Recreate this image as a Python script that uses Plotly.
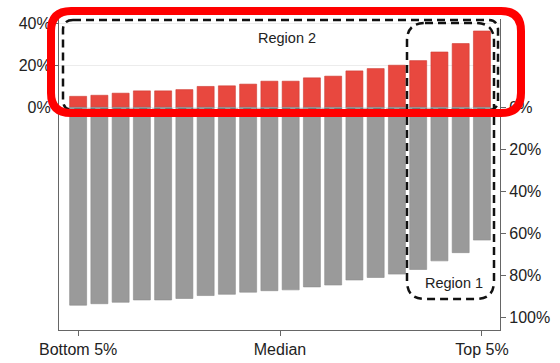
import plotly.graph_objects as go

# ---- data ----
positions = list(range(1, 21))
red_values = [5.2, 5.7, 6.7, 7.8, 7.8, 8.4, 9.9, 10.2, 11.0, 12.4,
              12.4, 14.0, 14.8, 17.3, 18.4, 20.0, 22.2, 26.3, 30.3, 36.3]
gray_values = [-94.2, -93.5, -92.8, -91.7, -91.7, -91.0, -89.6, -89.0, -88.0, -87.3,
               -86.9, -85.5, -84.6, -82.2, -81.0, -79.4, -77.2, -73.1, -69.2, -63.2]
x_tickvals = [1, 10.5, 20]
x_ticktext = ["Bottom 5%", "Median", "Top 5%"]
left_tickvals = [0, 20, 40]
left_ticktext = ["0%", "20%", "40%"]
right_tickvals = [0, -20, -40, -60, -80, -100]
right_ticktext = ["0%", "20%", "40%", "60%", "80%", "100%"]

W, H = 560, 363
L, R, T, B = 59, 60, 19, 33
PW, PH = W - L - R, H - T - B

def px(x):
    return (x - L) / PW

def py(y):
    return (H - B - y) / PH

def rrect(x0, y0, x1, y1, r):
    # rounded rectangle path in paper coords from pixel coords
    pts = [
        f"M {px(x0 + r)},{py(y0)}",
        f"L {px(x1 - r)},{py(y0)}",
        f"Q {px(x1)},{py(y0)} {px(x1)},{py(y0 + r)}",
        f"L {px(x1)},{py(y1 - r)}",
        f"Q {px(x1)},{py(y1)} {px(x1 - r)},{py(y1)}",
        f"L {px(x0 + r)},{py(y1)}",
        f"Q {px(x0)},{py(y1)} {px(x0)},{py(y1 - r)}",
        f"L {px(x0)},{py(y0 + r)}",
        f"Q {px(x0)},{py(y0)} {px(x0 + r)},{py(y0)}",
        "Z",
    ]
    return " ".join(pts)

fig = go.Figure()
fig.add_trace(go.Bar(x=positions, y=red_values, width=0.8,
                     marker=dict(color="#e8483f", line=dict(color="#cf3a32", width=0.6)),
                     yaxis="y", showlegend=False))
fig.add_trace(go.Bar(x=positions, y=gray_values, width=0.8,
                     marker=dict(color="#9a9a9a", line=dict(color="#8c8c8c", width=0.6)),
                     yaxis="y2", showlegend=False))

yrange = [-106, 42]
axis_font = dict(family="Liberation Sans, Arial, sans-serif", size=16, color="#222")

fig.update_layout(
    template="none",
    width=W, height=H,
    margin=dict(l=L, r=R, t=T, b=B, pad=0, autoexpand=False),
    paper_bgcolor="white", plot_bgcolor="white",
    barmode="overlay",
    font=axis_font,
    xaxis=dict(range=[0.1, 20.85], tickvals=x_tickvals, ticktext=x_ticktext,
               showline=True, linecolor="#666", linewidth=1.2,
               ticks="outside", ticklen=5, tickcolor="#666",
               showgrid=False, zeroline=False, tickfont=axis_font, automargin=False),
    yaxis=dict(range=yrange, tickvals=left_tickvals, ticktext=left_ticktext,
               showline=True, linecolor="#666", linewidth=1.2,
               ticks="outside", ticklen=4, tickcolor="#666",
               showgrid=True, gridcolor="#ececec", zeroline=False, tickfont=axis_font,
               automargin=False),
    yaxis2=dict(range=yrange, tickvals=right_tickvals, ticktext=right_ticktext,
                overlaying="y", side="right",
                showline=True, linecolor="#666", linewidth=1.2,
                ticks="outside", ticklen=5, tickcolor="#666",
                showgrid=False, zeroline=False, tickfont=axis_font, automargin=False),
)

dash_line = dict(color="#111", width=2.5, dash="8px,5px")
shapes = [
    dict(type="path", xref="paper", yref="paper", path=rrect(63, 20, 498, 110, 10),
         line=dash_line),
    dict(type="path", xref="paper", yref="paper", path=rrect(407, 23, 494, 299, 18),
         line=dash_line),
    dict(type="path", xref="paper", yref="paper", path=rrect(51, 11, 521, 113, 20),
         line=dict(color="#ff0000", width=8)),
]
fig.update_layout(shapes=shapes)

ann_font = dict(family="Liberation Sans, Arial, sans-serif", size=14.5, color="#222")
fig.add_annotation(x=px(287), y=py(38), xref="paper", yref="paper", text="Region 2",
                   showarrow=False, font=ann_font, xanchor="center", yanchor="middle")
fig.add_annotation(x=px(454), y=py(283), xref="paper", yref="paper", text="Region 1",
                   showarrow=False, font=ann_font, xanchor="center", yanchor="middle")

fig.write_html("out.html", config={"displayModeBar": False},
               post_script="document.body.style.margin='0px';document.body.style.overflow='hidden';")
